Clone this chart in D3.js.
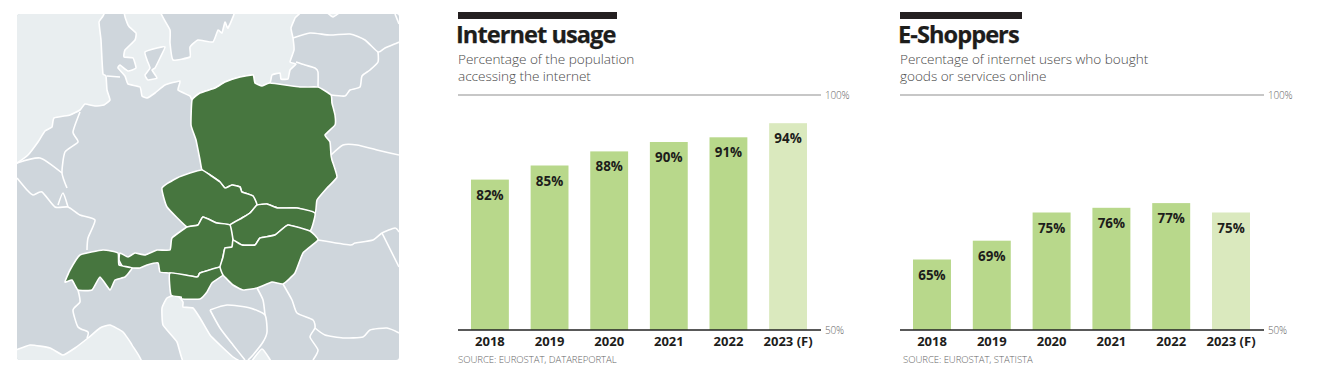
<!DOCTYPE html>
<html>
<head>
<meta charset="utf-8">
<script src="https://cdn.jsdelivr.net/npm/d3@7"></script>
<style>
  html, body { margin: 0; padding: 0; background: #fff; }
  svg { display: block; }
  text { font-family: "Open Sans", sans-serif; }
</style>
</head>
<body>
<svg id="chart" width="1328" height="385"></svg>
<script>
const years = ['2018', '2019', '2020', '2021', '2022', '2023 (F)'];
const usageValues = [82, 85, 88, 90, 91, 94];
const shopperValues = [65, 69, 75, 76, 77, 75];
const yTicks = [50, 100];
const FORECAST = '2023 (F)';

// map outlines (page pixels); corners sit past the frame and get clipped
const northSea = [[8,6],[103,6],[103,16],[99,22],[101,40],[102,60],[103,74],[106,76],[107,90],[110,100],[104,105],[95,106],[85,104],[80,110],[70,115],[54,118],[52,127],[45,131],[38,142],[28,155],[17,163],[8,168]];
const balticSea = [[130,6],[128,25],[136,33],[135,40],[125,50],[124,57],[133,58],[136,68],[128,71],[120,65],[118,68],[125,76],[128,84],[140,87],[142,96],[147,98],[155,93],[165,85],[180,81],[178,90],[190,96],[192,100],[200,93],[215,88],[225,82],[240,77],[253,75],[255,83],[261,86],[270,83],[272,75],[280,73],[281,79],[288,79],[290,70],[296,64],[290,62],[294,50],[293,38],[291,28],[295,18],[299,6]];
const sweden = [[160,6],[170,30],[170,43],[173,60],[190,57],[190,47],[198,40],[213,42],[218,30],[222,33],[225,22],[228,28],[234,6]];
const zealand = [[145,52],[157,48],[165,47],[160,58],[155,68],[152,70],[157,78],[148,80],[145,75],[150,68],[147,60]];
const medSea = [[8,354],[30,345],[50,348],[63,355],[75,348],[88,338],[100,328],[110,325],[123,332],[132,345],[140,368],[8,368]];
const adriatic = [[187,368],[177,342],[163,325],[162,308],[167,298],[177,295],[183,302],[183,307],[193,308],[200,318],[210,335],[220,345],[233,357],[248,368]];
const kotor = [[248,368],[262,349],[274,368]];
const rigaGulf = [[325,10],[333,17],[342,10]];

const poland = [[192,100],[191,125],[196,140],[200,160],[202,170],[210,175],[220,182],[225,188],[232,185],[240,187],[242,192],[253,196],[257,205],[267,204],[278,208],[297,208],[315,213],[317,200],[327,188],[337,177],[332,160],[331,155],[330,142],[325,135],[335,125],[335,115],[332,103],[331,95],[318,87],[300,87],[270,83],[262,86],[255,83],[253,75],[240,77],[225,82],[215,88],[200,93]];
const czechia = [[162,188],[177,178],[190,173],[202,170],[210,175],[220,182],[225,188],[232,185],[240,187],[242,192],[253,196],[257,205],[250,213],[242,218],[230,225],[217,223],[203,217],[198,225],[187,227],[167,207]];
const slovakia = [[257,205],[267,204],[278,208],[297,208],[315,213],[310,231],[288,225],[275,235],[260,238],[255,245],[242,245],[233,240],[230,225],[242,218],[250,213]];
const hungary = [[233,240],[232,247],[225,248],[223,257],[220,267],[223,275],[233,285],[243,290],[257,288],[272,282],[283,284],[295,273],[303,253],[318,240],[310,231],[288,225],[275,235],[260,238],[255,245],[242,245]];
const austria = [[120,253],[128,257],[135,253],[145,255],[157,250],[170,250],[172,238],[187,227],[198,225],[203,217],[217,223],[230,225],[233,240],[232,247],[225,248],[223,257],[220,267],[200,273],[197,277],[170,273],[160,272],[158,263],[147,265],[140,268],[133,268],[123,267],[119,260]];
const slovenia = [[170,273],[197,277],[200,273],[220,267],[223,275],[212,283],[207,292],[200,299],[182,299],[181,297],[171,295]];
const switzerland = [[65,282],[70,270],[80,255],[103,250],[118,253],[119,265],[132,268],[125,277],[115,280],[110,290],[100,277],[92,290],[78,290],[72,280]];
const highlighted = [poland, czechia, slovakia, austria, slovenia, hungary, switzerland];
const greySeas = [sweden, zealand];
const lightSeas = [northSea, balticSea, medSea, adriatic, kotor, rigaGulf];

const borders = [
  [[80,112],[73,132],[78,142],[65,152],[62,173],[67,188]],
  [[17,163],[40,158],[62,173]],
  [[17,178],[27,190],[33,195],[42,192],[55,207],[68,207],[80,215],[95,220],[88,238],[87,250]],
  [[58,205],[63,193],[68,207]],
  [[78,290],[80,302],[73,310],[78,327],[88,332],[87,338]],
  [[107,76],[120,77]],
  [[293,38],[310,33],[330,35],[350,34],[365,40],[378,52],[385,48],[397,43],[399,42]],
  [[378,52],[378,62],[370,70],[362,76],[360,87],[350,90],[345,96],[331,95]],
  [[296,62],[305,65],[315,68],[318,72],[318,87]],
  [[331,155],[343,145],[357,145],[377,150],[399,155]],
  [[318,240],[350,245],[355,243],[373,240],[382,233],[395,228],[399,232]],
  [[382,233],[399,267]],
  [[210,310],[227,305],[250,308],[265,315],[267,332],[263,342],[253,355],[248,360]],
  [[210,310],[220,328],[233,345],[245,360]],
  [[257,288],[263,300],[265,315]],
  [[283,284],[292,300],[297,313],[313,320],[315,328],[310,337],[318,350],[313,360]],
  [[315,328],[325,335],[343,338],[363,337],[370,330],[387,328],[399,333]],
  [[395,14],[399,24]]
];

const svg = d3.select('#chart');
const defs = svg.append('defs');
defs.append('clipPath').attr('id', 'mapClip')
  .append('rect')
  .attr('x', 17).attr('y', 14).attr('width', 382).attr('height', 346).attr('rx', 3);

const area = d3.line().curve(d3.curveCardinalClosed.tension(0.6));
const line = d3.line().curve(d3.curveCardinal.tension(0.4));

function drawMap () {
  const g = svg.append('g').attr('clip-path', 'url(#mapClip)');
  g.append('rect').attr('x', 17).attr('y', 14).attr('width', 382).attr('height', 346).attr('fill', '#cfd6dc');
  g.selectAll('path.sea').data(lightSeas).join('path')
    .attr('class', 'sea')
    .attr('d', area)
    .attr('fill', '#e9eef0')
    .attr('stroke', '#fff')
    .attr('stroke-width', 1.6);
  g.selectAll('path.isle').data(greySeas).join('path')
    .attr('class', 'isle')
    .attr('d', area)
    .attr('fill', '#cfd6dc')
    .attr('stroke', '#fff')
    .attr('stroke-width', 1.6);
  g.selectAll('path.border').data(borders).join('path')
    .attr('class', 'border')
    .attr('d', line)
    .attr('fill', 'none')
    .attr('stroke', '#fff')
    .attr('stroke-width', 1.6);
  g.selectAll('path.country').data(highlighted).join('path')
    .attr('class', 'country')
    .attr('d', area)
    .attr('fill', '#47763f')
    .attr('stroke', '#fff')
    .attr('stroke-width', 1.6)
    .attr('stroke-linejoin', 'round');
}

function drawPanel ({ title, subtitle, source, values, left, barEnd, right, ruleWidth }) {
  const x = d3.scaleBand().domain(years).range([barEnd[0], barEnd[1]]).paddingInner(0.365);
  const y = d3.scaleLinear().domain([50, 100]).range([330, 95]);
  const g = svg.append('g');

  g.append('rect').attr('x', left).attr('y', 12).attr('width', ruleWidth).attr('height', 7).attr('fill', '#231f20');
  g.append('text').attr('x', left - 2).attr('y', 43)
    .attr('font-size', 23.6).attr('font-weight', 700).attr('letter-spacing', -0.95)
    .attr('stroke', '#1d1d1b').attr('stroke-width', 0.25)
    .attr('fill', '#1d1d1b').text(title);
  g.selectAll('text.sub').data(subtitle).join('text')
    .attr('class', 'sub')
    .attr('x', left)
    .attr('y', (d, i) => 64 + i * 17)
    .attr('font-size', 13.6)
    .attr('font-weight', 300)
    .attr('letter-spacing', -0.05)
    .attr('fill', '#4a4a4a')
    .text(d => d);

  const rows = years.map((year, i) => ({ year, value: values[i] }));
  g.selectAll('rect.bar').data(rows).join('rect')
    .attr('class', 'bar')
    .attr('x', d => x(d.year))
    .attr('y', d => y(d.value))
    .attr('width', x.bandwidth())
    .attr('height', d => y(50) - y(d.value))
    .attr('fill', d => d.year === FORECAST ? '#dae9be' : '#b8d88b');
  g.selectAll('text.value').data(rows).join('text')
    .attr('class', 'value')
    .attr('x', d => x(d.year) + x.bandwidth() / 2)
    .attr('y', d => y(d.value) + 20)
    .attr('text-anchor', 'middle')
    .attr('font-size', 13.4)
    .attr('font-weight', 700)
    .attr('fill', '#1d1d1b')
    .text(d => d.value + '%');

  // guide lines and the small 50 / 100 labels
  const rules = g.selectAll('g.rule').data(yTicks).join('g').attr('class', 'rule')
    .attr('transform', d => `translate(0,${y(d)})`);
  rules.append('line')
    .attr('x1', left).attr('x2', right)
    .attr('stroke', d => d === 50 ? '#222' : '#b4b4b4')
    .attr('stroke-width', 1.4);
  rules.append('text')
    .attr('x', right + 4).attr('y', 4)
    .attr('font-size', 10).attr('font-weight', 300).attr('letter-spacing', -0.2)
    .attr('fill', '#666')
    .text(d => d + '%');

  const axis = g.append('g').attr('transform', 'translate(0,330)')
    .call(d3.axisBottom(x).tickSize(0).tickPadding(7));
  axis.select('.domain').remove();
  axis.selectAll('text')
    .attr('font-family', '"Open Sans", sans-serif')
    .attr('font-size', 13)
    .attr('font-weight', 700)
    .attr('fill', '#1d1d1b');

  g.append('text').attr('x', left + (title === 'E-Shoppers' ? 3 : 0)).attr('y', 363)
    .attr('font-size', 9.6).attr('font-weight', 300).attr('letter-spacing', -0.07)
    .attr('fill', '#666').text(source);
}

drawMap();
drawPanel({
  title: 'Internet usage',
  subtitle: ['Percentage of the population', 'accessing the internet'],
  source: 'SOURCE: EUROSTAT, DATAREPORTAL',
  values: usageValues,
  left: 458,
  barEnd: [471, 807],
  right: 821,
  ruleWidth: 159
});
drawPanel({
  title: 'E-Shoppers',
  subtitle: ['Percentage of internet users who bought', 'goods or services online'],
  source: 'SOURCE: EUROSTAT, STATISTA',
  values: shopperValues,
  left: 900,
  barEnd: [913, 1250],
  right: 1264,
  ruleWidth: 122
});
</script>
</body>
</html>
